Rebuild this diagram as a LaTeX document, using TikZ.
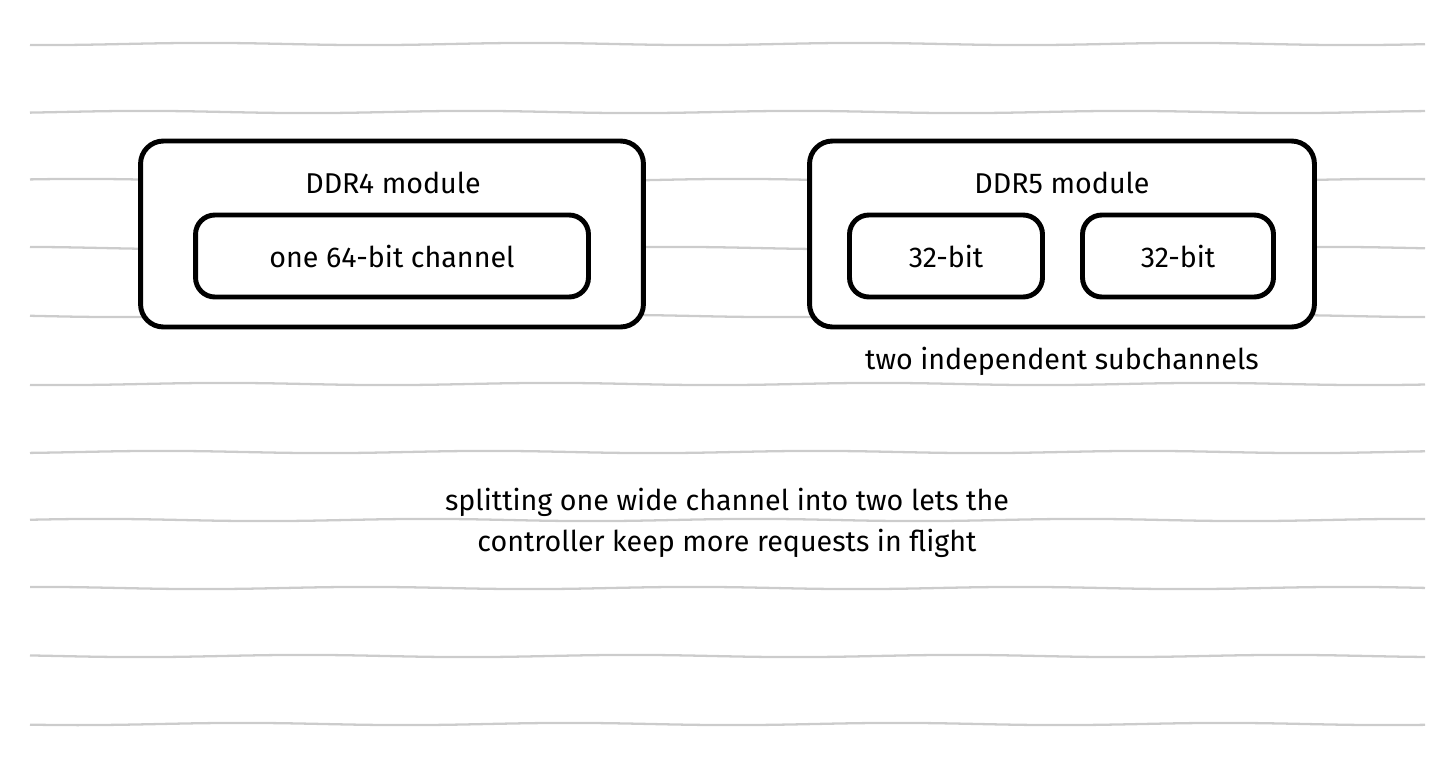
\documentclass[tikz,border=0pt]{standalone}
\usepackage{fontspec}
\setmainfont{Fira Sans}
\begin{document}
\begin{tikzpicture}[x=0.02cm, y=-0.02cm,
  every node/.style={font=\fontsize{16.3}{23.5}\selectfont},
  rule/.style={draw=black!20, line width=1.3pt},
  module/.style={draw, line width=2.8pt, rounded corners=13pt, fill=white, inner sep=0pt, minimum height=3.72cm},
  lane/.style={draw, line width=2.8pt, rounded corners=11pt, fill=white, inner sep=0pt, minimum height=1.64cm}]
  \useasboundingbox (0,0) rectangle (1455,768);
  % ruled paper
  \foreach \y in {44,112,...,724}
    \draw[rule] plot[domain=30:1425, samples=60, smooth] (\x, {\y+1.1*sin(1.1*\x+\y)});
  % DDR4
  \node[module, minimum width=10.06cm] (ddrfour) at (392,234) {};
  \node (ddrfourtitle) at (393,183) {DDR4 module};
  \node[lane, minimum width=7.86cm] (ddrfourlane) at (392,256) {one 64-bit channel};
  % DDR5
  \node[module, minimum width=10.1cm] (ddrfive) at (1062,234) {};
  \node (ddrfivetitle) at (1062,183) {DDR5 module};
  \node[lane, minimum width=3.86cm] (lanea) at (946,256) {32-bit};
  \node[lane, minimum width=3.82cm] (laneb) at (1178,256) {32-bit};
  \node (subnote) at (1062,361) {two independent subchannels};
  % note
  \node[align=center] (summary) at (727,523)
    {splitting one wide channel into two lets the\\controller keep more requests in flight};
\end{tikzpicture}
\end{document}
